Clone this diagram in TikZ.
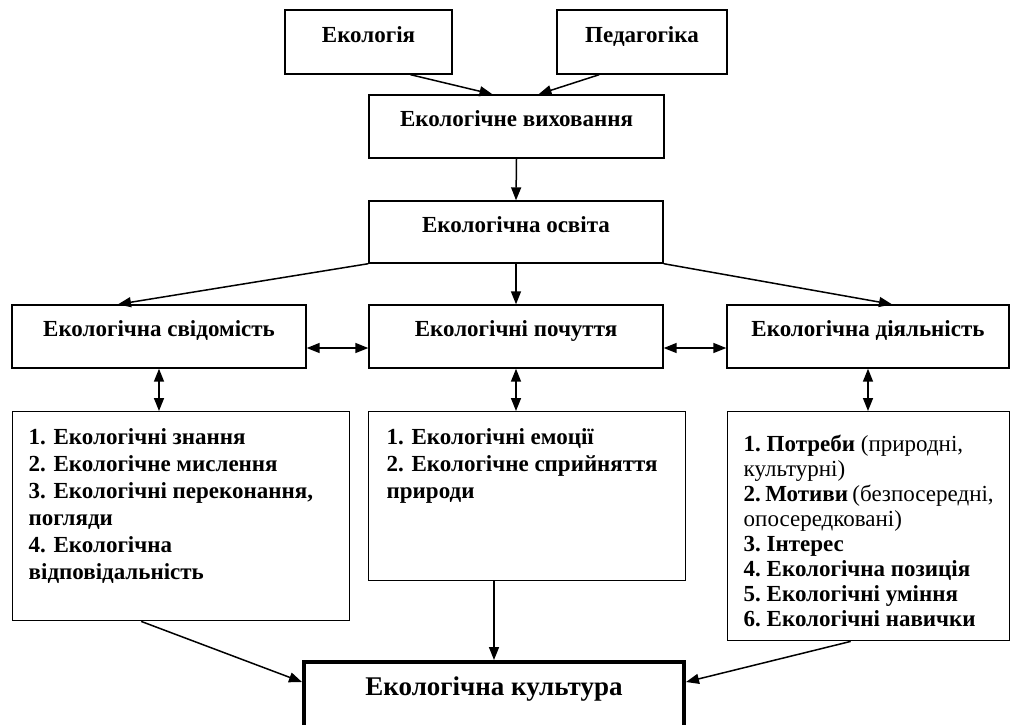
\documentclass[tikz,border=0pt]{standalone}
\usepackage{fontspec}
\setmainfont{Liberation Serif}
\usetikzlibrary{arrows.meta,calc}

\tikzset{
  headbox/.style={draw, line width=1.4pt, font=\fontsize{23}{27}\selectfont\bfseries,
    text height=9pt, text depth=9pt},
  listbox/.style={draw, line width=1.4pt, anchor=north west, inner xsep=16pt, inner ysep=17pt},
  arr/.style={line width=1.5pt, -{Triangle[length=13pt,width=10pt]}},
  darr/.style={line width=1.5pt, {Triangle[length=13pt,width=10pt]}-{Triangle[length=13pt,width=10pt]}},
}

\begin{document}
\begin{tikzpicture}[x=1pt,y=-1pt]
  \useasboundingbox (0,0) rectangle (1011,724);
  % top row
  \node[headbox, minimum width=167pt, minimum height=64pt] (eco) at (368.5,42) {Екологія};
  \node[headbox, minimum width=170pt, minimum height=64pt] (ped) at (642,42) {Педагогіка};
  \node[headbox, minimum width=295pt, minimum height=63pt] (vyh) at (516.5,126.5) {Екологічне виховання};
  \node[headbox, minimum width=294pt, minimum height=62pt] (osv) at (516,232) {Екологічна освіта};
  % middle row
  \node[headbox, minimum width=294pt, minimum height=63pt] (svid) at (159,336.5) {Екологічна свідомість};
  \node[headbox, minimum width=294pt, minimum height=63pt] (poch) at (516,336.5) {Екологічні почуття};
  \node[headbox, minimum width=282pt, minimum height=63pt] (dial) at (868,336.5) {Екологічна діяльність};
  % lists
  \node[listbox] (list1) at (12,411) {\parbox[c][175pt][t]{305pt}{\raggedright
    \fontsize{23}{27}\selectfont\bfseries
    1. Екологічні знання\\
    2. Екологічне мислення\\
    3. Екологічні переконання,\\
    погляди\\
    4. Екологічна\\
    відповідальність}};
  \node[listbox, inner xsep=18pt] (list2) at (368,411) {\parbox[c][135pt][t]{281pt}{\raggedright
    \fontsize{23}{27}\selectfont\bfseries
    1. Екологічні емоції\\
    2. Екологічне сприйняття\\
    природи}};
  \node[listbox, inner ysep=23pt] (list3) at (727,411) {\parbox[c][183pt][t]{250pt}{\raggedright
    \fontsize{23}{25}\selectfont
    {\bfseries 1.~Потреби}~(природні,\\
    культурні)\\
    {\bfseries 2.~Мотиви}~(безпосередні,\\
    опосередковані)\\
    {\bfseries 3.~Інтерес\\
    4.~Екологічна~позиція\\
    5.~Екологічні~уміння\\
    6.~Екологічні~навички}}};
  % result
  \node[draw, line width=4pt, minimum width=380pt, minimum height=66pt,
    font=\fontsize{27}{31}\selectfont\bfseries, text height=11pt, text depth=11pt]
    (kult) at (494,695) {Екологічна культура};

  % connectors
  \draw[arr] ($(eco.south)!0.5!(eco.south east)$) -- ([xshift=-24pt]vyh.north);
  \draw[arr] ($(ped.south)!0.5!(ped.south west)$) -- ([xshift=22pt]vyh.north);
  \draw[arr] (vyh.south) -- (osv.north);
  \draw[arr] (osv.south west) -- ([xshift=-41pt]svid.north);
  \draw[arr] (osv.south) -- (poch.north);
  \draw[arr] (osv.south east) -- ([xshift=24pt]dial.north);
  \draw[darr] ([yshift=-11.5pt]svid.east) -- ([yshift=-11.5pt]poch.west);
  \draw[darr] ([yshift=-11.5pt]poch.east) -- ([yshift=-11.5pt]dial.west);
  \draw[darr] (svid.south) -- (svid.south |- list1.north);
  \draw[darr] (poch.south) -- (poch.south |- list2.north);
  \draw[darr] (dial.south) -- (dial.south |- list3.north);
  \draw[arr] ([xshift=-40pt]list1.south) -- ([yshift=13pt]kult.west);
  \draw[arr] (kult.north |- list2.south) -- (kult.north);
  \draw[arr] ([xshift=-18pt]list3.south) -- ([yshift=13pt]kult.east);
\end{tikzpicture}
\end{document}
